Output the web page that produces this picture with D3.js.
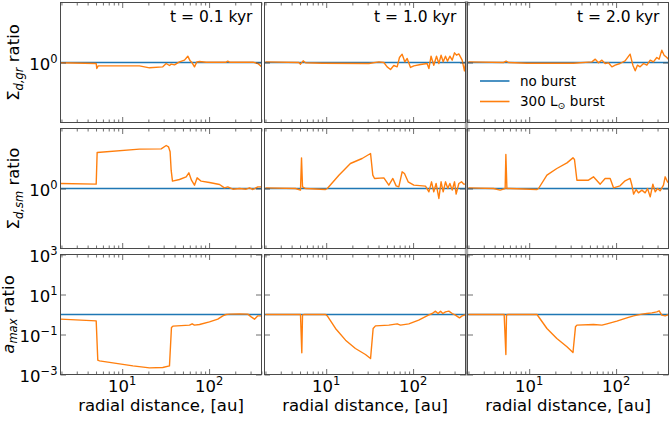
<!DOCTYPE html>
<html><head><meta charset="utf-8">
<script src="https://cdn.jsdelivr.net/npm/d3@7/dist/d3.min.js"></script>
<style>
body{margin:0;background:#fff}
svg{display:block;font-family:"DejaVu Sans",sans-serif}
</style>
</head><body>
<svg id="c" width="669" height="423"></svg>
<script>
// ---------- categories / labels ----------
const times = ["t = 0.1 kyr", "t = 1.0 kyr", "t = 2.0 kyr"];
const rowLabels = [
  {main: "Σ", sub: "d,gr", rest: " ratio", italicMain: false},
  {main: "Σ", sub: "d,sm", rest: " ratio", italicMain: false},
  {main: "a", sub: "max", rest: " ratio", italicMain: true}
];
const legendLabels = ["no burst", "300 L", "⊙", " burst"];
const xLabel = "radial distance, [au]";

// ---------- axes domains / ticks ----------
const xDomain = [1.95, 401];
const xMajorTicks = [10, 100];
const xMinorTicks = [2,3,4,5,6,7,8,9,20,30,40,50,60,70,80,90,200,300,400];
const ySigmaDomain = [Math.pow(10, -0.5), Math.pow(10, 0.5)];
const ySigmaTicks = [1];
const yAmaxDomain = [1e-3, 1e3];
const yAmaxTicks = [1e-3, 1e-1, 1e1, 1e3];

// ---------- series: no burst (reference) ----------
const noBurst = [[1.95, 1], [401, 1]];

// ---------- series: 300 Lsun burst, [r (au), ratio] ----------
const sigmaGr_t01 = [[1.95,0.994],[5.02,0.981],[5.10,0.891],[5.29,0.938],[15.8,0.938],[20.6,0.903],[29.3,0.920],[32.1,0.981],[35.0,0.944],[36.6,0.969],[40.0,0.956],[45.6,1.013],[52.1,1.046],[56.9,1.129],[60.5,1.032],[63.8,0.994],[67.9,0.920],[72.3,1.013],[77.6,1.019],[92.5,1.006],[157,1.006],[164,1.026],[172,1.006],[319,1.006],[364,0.981],[405,0.920]];
const sigmaGr_t10 = [[2.00,1.013],[4.84,1.0],[5.06,0.969],[5.43,1.032],[5.78,0.994],[8.99,0.987],[31.0,0.981],[40.4,1.013],[46.1,1.0],[50.3,0.920],[55.0,0.874],[60.0,0.944],[65.6,0.920],[69.7,1.101],[74.8,1.173],[80.3,1.013],[85.5,1.080],[93.4,0.909],[102,0.938],[122,0.962],[145,0.981],[152,0.891],[161,1.129],[173,0.950],[186,1.129],[198,0.981],[210,1.151],[222,1.013],[236,1.129],[249,1.026],[265,1.129],[282,1.046],[300,1.204],[316,1.151],[336,1.179],[367,1.046],[390,0.852],[401,0.981]];
const sigmaGr_t20 = [[2.00,1.013],[5.06,1.0],[5.43,1.026],[5.78,1.0],[9.4,0.987],[32.4,0.987],[52.7,1.013],[57.6,1.066],[62.7,0.994],[68.7,1.046],[74.8,0.981],[81.7,0.994],[89.5,0.920],[97.7,0.950],[111,0.981],[127,1.032],[145,1.173],[156,0.950],[166,0.852],[176,0.950],[189,0.920],[207,0.981],[226,0.950],[247,1.046],[269,1.013],[294,1.101],[313,1.066],[336,1.267],[357,1.151],[384,1.101],[408,1.046]];

const sigmaSm_t01 = [[1.95,1.101],[5.02,1.087],[5.15,1.995],[15.8,2.127],[28.1,2.141],[32.1,2.282],[34.1,2.225],[35.6,2.021],[36.6,1.421],[37.9,1.151],[45.6,1.189],[54.5,1.251],[58.5,1.351],[62.7,1.173],[67.9,1.066],[72.9,1.227],[81.1,1.151],[101,1.122],[132,1.080],[150,1.013],[164,1.032],[188,0.987],[224,1.0],[267,0.987],[292,1.013],[319,0.981],[364,1.032],[405,1.032]];
const sigmaSm_t10 = [[2.0,1.013],[4.43,1.0],[5.06,0.969],[5.20,1.801],[5.34,1.032],[5.78,1.0],[9.82,0.981],[10.3,1.0],[14.0,1.291],[19.0,1.616],[25.9,1.778],[32.4,1.957],[34.4,1.291],[36.0,1.212],[46.1,1.227],[52.6,1.066],[58.5,1.212],[63.8,1.052],[68.5,1.032],[74.8,1.377],[79.6,1.334],[87.7,1.137],[102,1.066],[139,1.046],[152,0.938],[163,1.137],[173,0.938],[184,1.101],[198,0.826],[210,1.137],[222,0.938],[236,1.137],[251,1.0],[265,1.101],[282,0.969],[300,1.137],[313,0.897],[336,1.101],[361,1.137],[384,1.087],[408,1.087]];
const sigmaSm_t20 = [[2.0,1.013],[3.88,1.0],[4.63,0.969],[5.29,1.0],[5.39,1.920],[5.54,1.0],[6.04,1.0],[12.3,0.981],[12.8,1.0],[16.0,1.291],[20.8,1.468],[27.2,1.636],[31.9,1.801],[33.2,1.744],[35.4,1.173],[48.1,1.173],[54.9,1.251],[65.6,1.087],[74.8,1.212],[85.5,1.212],[93.4,1.013],[111,1.052],[127,1.159],[145,1.212],[152,1.066],[159,0.897],[170,0.981],[181,0.920],[198,0.969],[216,0.920],[230,1.0],[247,0.852],[265,1.087],[282,0.938],[300,1.0],[321,0.956],[351,1.066],[367,1.251],[390,1.137],[408,1.101]];

const amax_t01 = [[1.95,0.584],[5.02,0.482],[5.24,0.00521],[5.48,0.00482],[13.3,0.00271],[20.6,0.00215],[29.3,0.00224],[35.0,0.00271],[36.9,0.224],[38.3,0.261],[59.5,0.293],[63.8,0.342],[67.9,0.293],[77.6,0.316],[101,0.430],[126,0.584],[144,0.858],[157,1.0],[172,1.039],[224,1.080],[279,1.039],[305,0.765],[333,0.584],[364,0.858],[405,0.858]];
const amax_t10 = [[2.0,1.0],[5.06,1.0],[5.24,0.0121],[5.34,0.926],[5.53,1.0],[9.82,1.0],[10.3,0.858],[12.8,0.200],[16.7,0.0521],[21.7,0.0200],[28.3,0.0100],[32.4,0.00631],[34.7,0.200],[36.9,0.271],[52.6,0.293],[65.6,0.342],[71.6,0.293],[89.3,0.342],[116,0.521],[150,0.926],[166,1.122],[181,1.468],[194,1.122],[207,1.468],[220,1.122],[236,1.359],[258,1.468],[282,1.122],[307,0.926],[342,0.681],[367,0.858],[408,1.0]];
const amax_t20 = [[2.0,1.0],[5.15,1.0],[5.39,0.0100],[5.48,0.926],[5.69,1.0],[12.3,1.0],[16.0,0.200],[20.8,0.0631],[27.2,0.0242],[31.9,0.0126],[34.1,0.242],[35.4,0.293],[54.9,0.316],[68.7,0.293],[78.4,0.342],[102,0.464],[133,0.681],[159,0.858],[198,1.039],[226,1.122],[258,1.212],[294,1.359],[313,1.525],[336,0.926],[367,0.858],[408,1.0]];

const burstSeries = [
  [sigmaGr_t01, sigmaGr_t10, sigmaGr_t20],
  [sigmaSm_t01, sigmaSm_t10, sigmaSm_t20],
  [amax_t01, amax_t10, amax_t20]
];

// ---------- layout ----------
const colLeft = [60.5, 264.5, 467.5];
const rowTop = [2.5, 128.5, 254.5];
const pw = 201, ph = 120;
const spineColor = "#4a4a4a";
const blue = "#1f77b4", orange = "#ff7f0e";
const tickFont = 16.5, supFont = 11.5;

const svg = d3.select("#c");

// gray separator band between columns 2 and 3
svg.append("rect").attr("x", 464.8).attr("y", 1).attr("width", 3.4).attr("height", 374.5)
  .attr("fill", "#ababab");

const x = d3.scaleLog().domain(xDomain).range([0, pw]);
const yS = d3.scaleLog().domain(ySigmaDomain).range([ph, 0]);
const yA = d3.scaleLog().domain(yAmaxDomain).range([ph, 0]);

function expLabel(sel, v) {
  const e = Math.round(Math.log10(v));
  sel.append("tspan").attr("font-size", tickFont).text("10");
  sel.append("tspan").attr("font-size", supFont).attr("dy", -6.5)
    .text(e < 0 ? "\u2212" + (-e) : String(e));
}

const line = (xs, ys) => d3.line().x(d => xs(d[0])).y(d => ys(d[1]));

for (let r = 0; r < 3; r++) {
  const ys = r < 2 ? yS : yA;
  const yt = r < 2 ? ySigmaTicks : yAmaxTicks;
  for (let c = 0; c < 3; c++) {
    const g = svg.append("g").attr("transform", `translate(${colLeft[c]},${rowTop[r]})`);
    const cid = `clip${r}${c}`;
    g.append("clipPath").attr("id", cid).append("rect")
      .attr("x", 0).attr("y", 0).attr("width", pw).attr("height", ph);
    g.append("rect").attr("width", pw).attr("height", ph).attr("fill", "#fff");
    const plot = g.append("g").attr("clip-path", `url(#${cid})`);
    plot.append("path").datum(noBurst).attr("d", line(x, ys))
      .attr("fill", "none").attr("stroke", blue).attr("stroke-width", 1.6);
    plot.append("path").datum(burstSeries[r][c]).attr("d", line(x, ys))
      .attr("fill", "none").attr("stroke", orange).attr("stroke-width", 1.4)
      .attr("stroke-linejoin", "round");

    // ticks (inward, all four sides)
    const axes = [
      [d3.axisBottom(x).tickValues(xMajorTicks).tickSize(-5.5), `translate(0,${ph})`],
      [d3.axisBottom(x).tickValues(xMinorTicks).tickSize(-3), `translate(0,${ph})`],
      [d3.axisTop(x).tickValues(xMajorTicks).tickSize(-5.5), `translate(0,0)`],
      [d3.axisTop(x).tickValues(xMinorTicks).tickSize(-3), `translate(0,0)`],
      [d3.axisLeft(ys).tickValues(yt).tickSize(-5.5), `translate(0,0)`],
      [d3.axisRight(ys).tickValues(yt).tickSize(-5.5), `translate(${pw},0)`]
    ];
    axes.forEach(([ax, tr]) => {
      const a = g.append("g").attr("transform", tr)
        .call(ax.tickFormat("").tickSizeOuter(0));
      a.select(".domain").remove();
      a.selectAll("line").attr("stroke", spineColor).attr("stroke-width", 0.8);
    });
    // spines
    g.append("rect").attr("width", pw).attr("height", ph)
      .attr("fill", "none").attr("stroke", spineColor).attr("stroke-width", 1);

    // y tick labels on first column
    if (c === 0) {
      yt.forEach(v => {
        const t = g.append("text").attr("x", -3).attr("y", ys(v) + 7.3)
          .attr("text-anchor", "end").attr("fill", "#000");
        expLabel(t, v);
      });
    }
    // x tick labels on bottom row
    if (r === 2) {
      xMajorTicks.forEach(v => {
        const t = g.append("text").attr("x", x(v)).attr("y", ph + 17)
          .attr("text-anchor", "middle").attr("fill", "#000");
        expLabel(t, v);
      });
      g.append("text").attr("x", pw / 2).attr("y", ph + 36)
        .attr("text-anchor", "middle").attr("font-size", 16.5).attr("fill", "#000")
        .text(xLabel);
    }
    // titles on top row
    if (r === 0) {
      g.append("text").attr("x", pw - 9).attr("y", 19)
        .attr("text-anchor", "end").attr("font-size", 15.5).attr("fill", "#000")
        .text(times[c]);
    }
  }
}

// y axis labels
const ylabX = [19, 19, 13.5];
rowLabels.forEach((lab, r) => {
  const t = svg.append("text")
    .attr("transform", `translate(${ylabX[r]},${rowTop[r] + ph / 2}) rotate(-90)`)
    .attr("text-anchor", "middle").attr("font-size", 16.5).attr("fill", "#000")
    .style("white-space", "pre");
  t.append("tspan").attr("font-style", lab.italicMain ? "italic" : "normal").text(lab.main);
  t.append("tspan").attr("font-size", 11.5).attr("font-style", "italic").attr("dy", 3.5).text(lab.sub);
  t.append("tspan").attr("dy", -3.5).text(lab.rest);
});

// legend (col 3, row 1)
const lg = svg.append("g");
const legY = [81, 101.5];
[blue, orange].forEach((col, i) => {
  lg.append("line").attr("x1", 480).attr("x2", 509.5).attr("y1", legY[i]).attr("y2", legY[i])
    .attr("stroke", col).attr("stroke-width", 1.6);
});
lg.append("text").attr("x", 520).attr("y", legY[0] + 4.8).attr("font-size", 13.5)
  .attr("fill", "#000").text(legendLabels[0]);
const lt = lg.append("text").attr("x", 520).attr("y", legY[1] + 4.8).attr("font-size", 13.5)
  .attr("fill", "#000").style("white-space", "pre");
lt.append("tspan").text(legendLabels[1]);
lt.append("tspan").attr("font-size", 9.5).attr("dy", 3).text(legendLabels[2]);
lt.append("tspan").attr("dy", -3).text(legendLabels[3]);
</script>
</body></html>
